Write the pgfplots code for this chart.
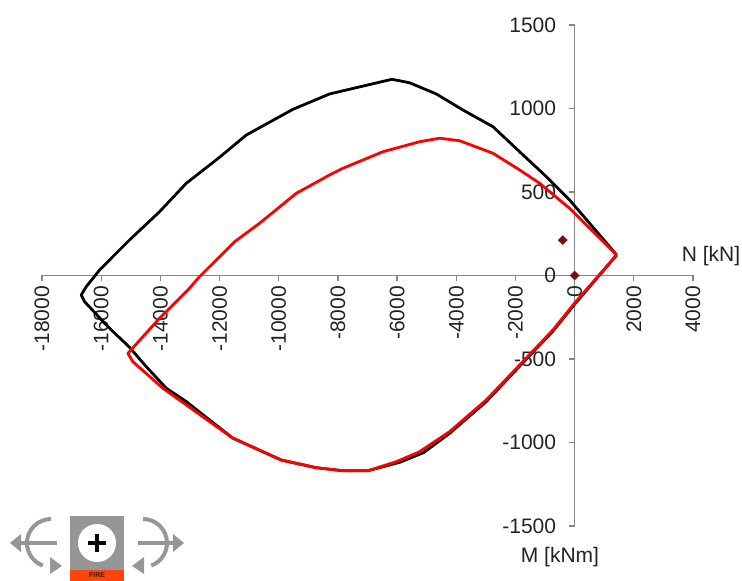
\documentclass[border=0pt]{standalone}
\usepackage{pgfplots}
\pgfplotsset{compat=1.18}
\usepackage{fontspec}
\setmainfont{Liberation Sans}
\definecolor{axgray}{RGB}{134,134,134}
\definecolor{txt}{RGB}{35,35,35}
\definecolor{logogray}{RGB}{150,150,150}
\definecolor{fire}{RGB}{250,70,10}
\definecolor{dk}{RGB}{120,14,20}
\begin{document}
\begin{tikzpicture}[x=1pt,y=1pt]
\useasboundingbox (0,0) rectangle (742,581);
\begin{axis}[
  at={(42pt,55pt)},anchor=south west,
  scale only axis,width=651pt,height=501pt,
  xmin=-18000,xmax=4000,ymin=-1500,ymax=1500,
  axis x line=middle,axis y line=middle,
  axis line style={-,draw=axgray,line width=1.2pt},
  xtick={-18000,-16000,...,4000},
  ytick={-1500,-1000,...,1500},
  scaled ticks=false,
  hide obscured x ticks=false,hide obscured y ticks=false,
  tick align=outside,
  major tick length=6pt,
  tick style={draw=axgray,line width=1.2pt},
  /pgf/number format/assume math mode=true,
  /pgf/number format/set thousands separator={},
  x tick label style={rotate=90,anchor=east,font=\fontsize{21}{23}\selectfont,text=txt,xshift=-1pt},
  y tick label style={anchor=east,font=\fontsize{21}{23}\selectfont,text=txt,xshift=-9pt},
  clip=false,
]
\addplot[black,line width=2.8pt,line join=round] coordinates {
(1420,123)(-169,452)(-957,592)(-1859,741)(-2761,891)(-3775,991)(-4675,1087)(-5577,1154)(-6175,1175)
(-8281,1087)(-9521,995)(-11097,841)(-11999,708)(-13125,552)(-14027,382)(-15041,213)
(-16055,33)(-16505,-67)(-16674,-117)(-16560,-157)(-15775,-306)(-15040,-430)(-14476,-546)
(-13800,-675)(-13125,-755)(-11560,-973)(-9914,-1105)(-8730,-1151)(-7831,-1169)(-6986,-1169)
(-5900,-1118)(-5100,-1060)(-4225,-945)(-2985,-755)(-1859,-543)(-733,-333)(0,-172)(1420,123)};
\addplot[red,line width=2.8pt,line join=round] coordinates {
(1420,123)(-169,402)(-1183,552)(-1859,632)(-2761,732)(-3887,807)(-4563,822)(-5239,801)
(-6480,741)(-7831,642)(-8281,602)(-9407,492)(-10647,313)(-11492,202)(-12675,-7)(-13070,-87)
(-14027,-256)(-15098,-466)(-14930,-516)(-13916,-675)(-13125,-775)(-11560,-973)
(-9914,-1105)(-8730,-1151)(-7831,-1169)(-6986,-1169)(-6027,-1115)(-5239,-1055)(-4225,-935)
(-2985,-745)(-1859,-536)(-733,-326)(0,-165)(1420,123)};
\addplot[only marks,mark=square*,mark size=3.2pt,color=dk,mark options={fill=dk,draw=dk,rotate=45}] coordinates {(-400,212)(0,0)};
\end{axis}
\node[font=\fontsize{21}{23}\selectfont,text=txt] at (711,325) {N [kN]};
\node[font=\fontsize{21}{23}\selectfont,text=txt] at (560,24) {M [kNm]};
% logo
\fill[logogray] (70,11) rectangle (124,65);
\fill[fire] (70,0) rectangle (124,11);
\fill[white] (97,38) circle (19);
\draw[black,line width=3.2pt] (88,38)--(106,38) (97,29)--(97,47);
\node[font=\bfseries\fontsize{7}{8}\selectfont,text=black!70!fire,inner sep=0pt] at (97,5.5) {FIRE};
\draw[logogray,line width=4pt] (51,62) arc (90:250:24) ;
\draw[logogray,line width=4pt] (20,38)--(57,38);
\fill[logogray] (10,38)--(21,47)--(21,29)--cycle;
\fill[logogray] (62,15)--(50,24)--(50,7)--cycle;
\draw[logogray,line width=4pt] (143,62) arc (90:-70:24);
\draw[logogray,line width=4pt] (138,38)--(175,38);
\fill[logogray] (184,38)--(173,47)--(173,29)--cycle;
\fill[logogray] (132,15)--(144,24)--(144,7)--cycle;
\end{tikzpicture}
\end{document}
